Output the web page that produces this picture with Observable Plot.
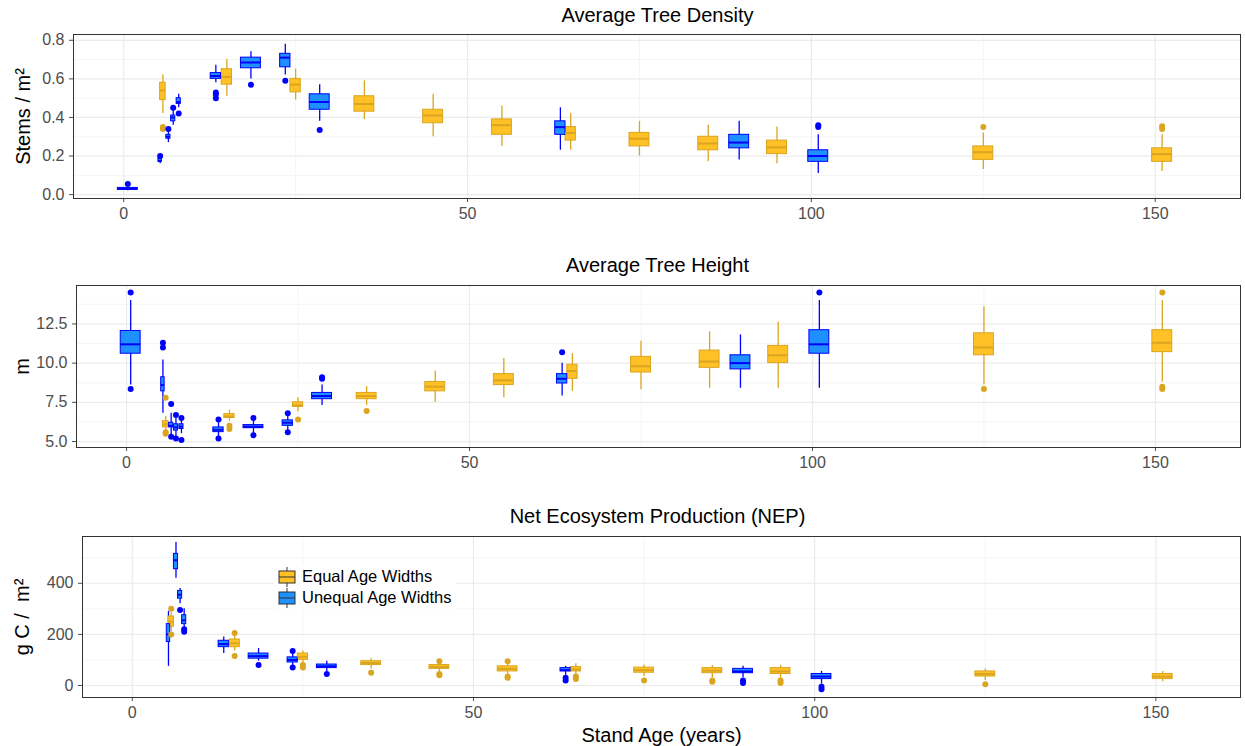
<!doctype html>
<html><head><meta charset="utf-8">
<style>
body{margin:0;background:#fff;font-family:"Liberation Sans",Arial,sans-serif;}
#wrap{position:relative;width:1245px;}
.ttl{text-align:center;font-size:20px;color:#000;padding-left:70px;box-sizing:border-box;}
#leg{position:absolute;left:274px;top:565px;background:#fff;font-size:16.5px;padding:1px 4px;line-height:21px;color:#000;}
#leg div{display:flex;align-items:center;gap:6px;}
</style></head><body>
<div id="wrap"></div>
<script src="https://cdn.jsdelivr.net/npm/d3@7"></script>
<script src="https://cdn.jsdelivr.net/npm/@observablehq/plot@0.6"></script>
<script>
// box summaries: age, width, lower whisker, q1, median, q3, upper whisker, outliers
const eqAge = [5.7, 15, 25, 35, 45, 55, 65, 75, 85, 95, 125, 151];
const eqWid = [0.8, 1.5, 1.5, 2.9, 2.9, 2.9, 1.5, 2.9, 2.9, 2.9, 2.9, 2.9];
const unAge = [0.6, 5.3, 6.5, 7.2, 8.0, 13.4, 18.5, 23.5, 28.5, 63.5, 89.5, 101];
const unWid = [2.9, 0.5, 0.6, 0.6, 0.6, 1.5, 2.9, 1.5, 2.9, 1.5, 2.9, 2.9];

const densEq = [
  [0.42,0.49,0.54,0.58,0.62,[0.34,0.35]],[0.51,0.57,0.61,0.65,0.70,[]],[0.49,0.53,0.57,0.60,0.65,[]],
  [0.39,0.43,0.47,0.51,0.59,[]],[0.30,0.37,0.41,0.44,0.52,[]],[0.25,0.31,0.36,0.39,0.46,[]],
  [0.23,0.28,0.32,0.35,0.42,[]],[0.20,0.25,0.29,0.32,0.38,[]],[0.17,0.23,0.265,0.30,0.36,[]],
  [0.16,0.21,0.245,0.28,0.35,[]],[0.13,0.18,0.22,0.25,0.32,[0.35]],[0.12,0.17,0.21,0.24,0.31,[0.34,0.355]]];
const densUn = [
  [0.02,0.025,0.03,0.035,0.04,[0.055]],[0.16,0.17,0.175,0.185,0.19,[0.2]],[0.27,0.29,0.30,0.31,0.33,[0.34]],
  [0.36,0.38,0.40,0.41,0.44,[0.45]],[0.45,0.47,0.48,0.50,0.52,[0.42]],[0.58,0.60,0.615,0.63,0.67,[0.50,0.52,0.53]],
  [0.60,0.655,0.685,0.71,0.74,[0.57]],[0.62,0.66,0.71,0.73,0.78,[0.59]],[0.38,0.44,0.48,0.52,0.57,[0.335]],
  [0.23,0.31,0.35,0.38,0.45,[]],[0.18,0.24,0.27,0.31,0.38,[]],[0.11,0.17,0.20,0.23,0.31,[0.35,0.36]]];

const hgtEq = [
  [5.7,5.9,6.1,6.3,6.6,[7.8,5.5,5.6]],[6.3,6.5,6.6,6.75,7.0,[5.8,6.0]],[6.9,7.2,7.3,7.5,7.8,[6.4]],
  [7.3,7.7,7.9,8.1,8.5,[6.95]],[7.5,8.2,8.5,8.8,9.5,[]],[7.8,8.6,8.9,9.3,10.3,[]],
  [8.2,9.0,9.5,9.9,10.6,[]],[8.3,9.4,9.8,10.4,11.4,[]],[8.4,9.7,10.1,10.8,12.0,[]],
  [8.4,10.0,10.5,11.1,12.6,[]],[8.6,10.5,11.0,11.9,13.6,[8.35]],[8.8,10.7,11.3,12.1,14.0,[14.5,8.5,8.35]]];
const hgtUn = [
  [8.6,10.6,11.2,12.05,14.0,[14.5,8.35]],[6.8,8.2,8.6,9.1,10.2,[11.0,11.3]],[5.4,5.9,6.0,6.2,6.8,[7.4,5.3]],
  [5.3,5.7,5.9,6.1,6.5,[6.7,5.2]],[5.5,5.8,5.95,6.1,6.4,[6.5,5.1]],[5.3,5.6,5.75,5.9,6.2,[6.4,5.2]],
  [5.5,5.85,5.95,6.05,6.3,[6.5,5.4]],[5.6,6.0,6.2,6.35,6.6,[6.8,5.6]],[7.3,7.7,7.9,8.1,8.6,[9.0,9.1]],
  [7.9,8.7,9.0,9.3,10.0,[10.7]],[8.4,9.6,10.0,10.5,11.8,[]],[8.4,10.6,11.2,12.1,14.0,[14.5]]];

const nepEq = [
  [210,230,250,270,285,[200,300]],[135,150,165,180,195,[115,205]],[90,100,112,125,135,[70,80]],
  [65,80,88,95,105,[50]],[55,65,72,80,90,[40,45,95]],[45,55,65,75,90,[30,35,95]],
  [40,55,62,72,85,[25,35]],[35,50,60,70,80,[20]],[30,48,58,68,78,[15,20]],
  [25,45,55,68,78,[10,20]],[20,35,45,55,65,[5]],[15,25,35,45,55,[]]];
const nepUn = [
  [30,30,30,30,30,[]],[75,170,200,240,290,[]],[420,455,490,515,560,[]],
  [320,340,355,370,380,[295]],[220,240,255,275,300,[210,220]],[125,150,162,175,190,[]],
  [95,105,115,125,145,[80]],[75,90,100,110,125,[70,135]],[55,68,75,82,95,[45]],
  [40,55,60,68,75,[20,30]],[30,48,55,65,75,[10,20]],[5,25,35,45,55,[-15,-5]]];
// first unequal NEP entry (age 0.6) has no box in the reference
const nepUnAge = [null, 5.3, 6.4, 7.0, 7.6, 13.4, 18.5, 23.5, 28.5, 63.5, 89.5, 101];

const xTicks = [0, 50, 100, 150], xMinor = [25, 75, 125];
const C = {Equal: {fill: "#FFC125", stroke: "#DAA520"}, Unequal: {fill: "#1E90FF", stroke: "#0000FF"}};

function boxes(ages, wids, stats, s) {
  return stats.map((d, i) => ({x: ages[i], w: wids[i], lo: d[0], q1: d[1], med: d[2], q3: d[3], hi: d[4], out: d[5], s}))
    .filter(b => b.x != null);
}

function panel(title, bx, opt) {
  const wrap = document.getElementById("wrap");
  const t = document.createElement("div"); t.className = "ttl"; t.textContent = title;
  t.style.height = opt.th + "px"; t.style.lineHeight = opt.th + "px";
  wrap.append(t);
  const outs = bx.flatMap(b => b.out.map(v => ({x: b.x, v, s: b.s})));
  const marks = [
    Plot.ruleY(opt.minor, {stroke: "#F2F2F2", strokeWidth: 0.8}),
    Plot.ruleX(xMinor, {stroke: "#F2F2F2", strokeWidth: 0.8}),
    Plot.ruleY(opt.ticks, {stroke: "#EBEBEB", strokeWidth: 1.2}),
    Plot.ruleX(xTicks, {stroke: "#EBEBEB", strokeWidth: 1.2}),
    Plot.ruleX(bx, {x: "x", y1: "lo", y2: "hi", stroke: d => C[d.s].stroke, strokeWidth: 1.3}),
    Plot.rect(bx, {x1: d => d.x - d.w / 2, x2: d => d.x + d.w / 2, y1: "q1", y2: "q3", fill: d => C[d.s].fill, stroke: d => C[d.s].stroke, strokeWidth: 1}),
    Plot.ruleY(bx, {y: "med", x1: d => d.x - d.w / 2, x2: d => d.x + d.w / 2, stroke: d => C[d.s].stroke, strokeWidth: 2}),
    Plot.dot(outs, {x: "x", y: "v", r: 3, fill: d => C[d.s].stroke, stroke: "none"}),
    Plot.frame({stroke: "#333", strokeWidth: 1})
  ];
  const p = Plot.plot({
    width: 1245, height: opt.h, marginLeft: opt.ml, marginRight: 5, marginTop: 4, marginBottom: opt.mb,
    style: {fontFamily: "Liberation Sans, Arial, sans-serif", fontSize: "16px", color: "#4D4D4D"},
    x: {domain: [-7.3, 162.4], ticks: xTicks, tickSize: 4, label: opt.xl, labelAnchor: "center", labelArrow: "none", labelOffset: 44},
    y: {domain: opt.dom, ticks: opt.ticks, tickSize: 4, tickFormat: opt.fmt, label: opt.yl, labelAnchor: "center", labelArrow: "none", labelOffset: opt.lo},
    marks
  });
  p.querySelectorAll("[aria-label='x-axis label'], [aria-label='y-axis label']").forEach(e => { e.style.fontSize = "20px"; e.style.fill = "#000"; e.setAttribute("fill", "#000"); });
  wrap.append(p);
}

panel("Average Tree Density", [...boxes(eqAge, eqWid, densEq, "Equal"), ...boxes(unAge, unWid, densUn, "Unequal")],
  {th: 30, h: 220, mb: 52, ml: 73, dom: [-0.02, 0.83], ticks: [0, 0.2, 0.4, 0.6, 0.8], minor: [0.1, 0.3, 0.5, 0.7], fmt: d3.format(".1f"), yl: "Stems / m²", lo: 58, xl: null});
panel("Average Tree Height", [...boxes(eqAge, eqWid, hgtEq, "Equal"), ...boxes(unAge, unWid, hgtUn, "Unequal")],
  {th: 31, h: 219, mb: 53, ml: 76, dom: [4.62, 14.95], ticks: [5, 7.5, 10, 12.5], minor: [6.25, 8.75, 11.25, 13.75], fmt: d3.format(".1f"), yl: "m", lo: 62, xl: null});
panel("Net Ecosystem Production (NEP)", [...boxes(eqAge, eqWid, nepEq, "Equal"), ...boxes(nepUnAge, unWid, nepUn, "Unequal")],
  {th: 32, h: 214, mb: 49, ml: 82, dom: [-47, 583], ticks: [0, 200, 400], minor: [100, 300, 500], fmt: d3.format("d"), yl: "g C /  m²", lo: 68, xl: "Stand Age (years)"});

const leg = document.createElement("div"); leg.id = "leg";
const seriesNames = [["Equal", "Equal Age Widths"], ["Unequal", "Unequal Age Widths"]];
leg.innerHTML = seriesNames.map(([k, n]) =>
  `<div><svg width="18" height="20"><line x1="9" x2="9" y1="0" y2="20" stroke="#333"/><rect x="1" y="4" width="16" height="12" fill="${C[k].fill}" stroke="#333"/><line x1="1" x2="17" y1="10" y2="10" stroke="#333"/></svg><span>${n}</span></div>`).join("");
document.getElementById("wrap").append(leg);
</script>
</body></html>
